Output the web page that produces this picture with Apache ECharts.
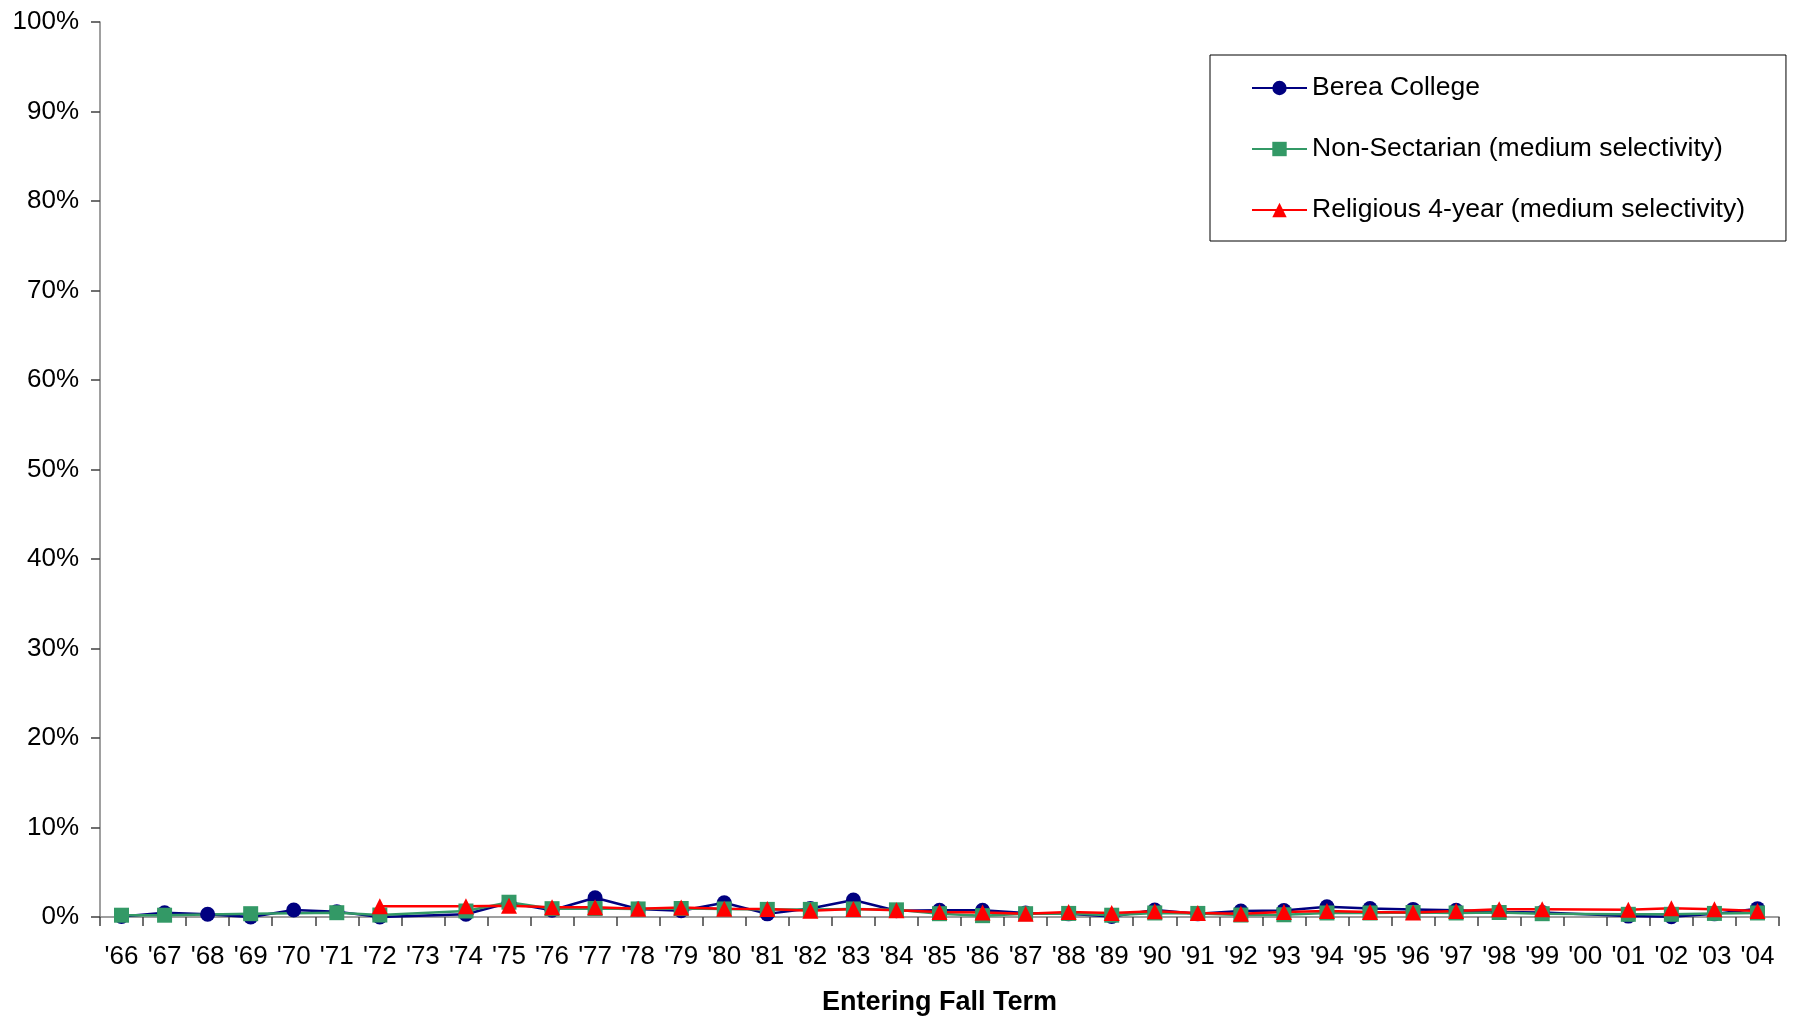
<!DOCTYPE html>
<html>
<head>
<meta charset="utf-8">
<script src="https://cdn.jsdelivr.net/npm/echarts@6/dist/echarts.min.js"></script>
<style>
html,body{margin:0;padding:0;background:#fff;}
#chart{width:1799px;height:1016px;}
</style>
</head>
<body>
<div id="chart"></div>
<script>
var categories = ["'66","'67","'68","'69","'70","'71","'72","'73","'74","'75","'76","'77","'78","'79","'80","'81","'82","'83","'84","'85","'86","'87","'88","'89","'90","'91","'92","'93","'94","'95","'96","'97","'98","'99","'00","'01","'02","'03","'04"];

var bereaCollege = [0.05,0.48,0.3,0.0,0.78,0.6,0.0,null,0.3,1.6,0.75,2.15,0.9,0.7,1.6,0.35,0.95,1.9,0.7,0.75,0.75,0.45,0.35,0.05,0.78,0.35,0.67,0.72,1.15,0.95,0.85,0.75,0.55,0.5,null,0.1,0.03,0.35,0.93];

var nonSectarian = [0.2,0.2,null,0.37,null,0.48,0.22,null,0.67,1.65,0.93,0.95,0.9,0.95,0.9,0.85,0.85,0.9,0.8,0.37,0.15,0.37,0.4,0.2,0.45,0.4,0.22,0.25,0.45,0.45,0.5,0.45,0.5,0.37,null,0.3,0.3,0.4,0.45];

var religious4yr = [null,null,null,null,null,null,1.2,null,1.2,1.25,1.1,1.1,0.93,1.05,0.93,0.9,0.7,0.9,0.75,0.55,0.5,0.37,0.55,0.45,0.65,0.45,0.37,0.55,0.67,0.55,0.5,0.67,0.86,0.86,null,0.8,0.97,0.86,0.67];

var seriesNames = ["Berea College","Non-Sectarian (medium selectivity)","Religious 4-year (medium selectivity)"];
var xAxisTitle = "Entering Fall Term";

var FONT = 'Arial, "Liberation Sans", sans-serif';
var chart = echarts.init(document.getElementById('chart'), null, {renderer:'canvas'});

function lineSeries(name, data, color, symbol, size) {
  return {
    name: name,
    type: 'line',
    data: data,
    connectNulls: true,
    symbol: symbol,
    symbolSize: size,
    showAllSymbol: true,
    animation: false,
    lineStyle: {color: color, width: 2.5},
    itemStyle: {color: color},
    emphasis: {disabled: true}
  };
}

chart.setOption({
  animation: false,
  backgroundColor: '#ffffff',
  textStyle: {fontFamily: FONT},
  grid: {left: 100, right: 20, top: 22, bottom: 99, containLabel: false, outerBoundsMode: 'none'},
  legend: {
    orient: 'vertical',
    left: 1210,
    top: 55,
    padding: [18, 41, 16, 41],
    itemGap: 31,
    itemWidth: 55,
    itemHeight: 18,
    borderColor: '#000',
    borderWidth: 1,
    backgroundColor: '#fff',
    textStyle: {fontFamily: FONT, fontSize: 26.5, color: '#000', lineHeight: 30},
    data: seriesNames
  },
  xAxis: {
    type: 'category',
    data: categories,
    boundaryGap: true,
    name: xAxisTitle,
    nameLocation: 'middle',
    nameGap: 72,
    nameTextStyle: {fontFamily: FONT, fontSize: 27, fontWeight: 'bold', color: '#000'},
    axisLine: {lineStyle: {color: '#808080', width: 1.5}},
    axisTick: {show: true, interval: 0, length: 9, lineStyle: {color: '#404040', width: 1.5}},
    axisLabel: {interval: 0, margin: 27, fontFamily: FONT, fontSize: 26, color: '#000'},
    splitLine: {show: false}
  },
  yAxis: {
    type: 'value',
    min: 0,
    max: 100,
    interval: 10,
    axisLine: {show: true, lineStyle: {color: '#808080', width: 1.5}},
    axisTick: {show: true, length: 9, lineStyle: {color: '#404040', width: 1.5}},
    axisLabel: {formatter: '{value}%', margin: 21, fontFamily: FONT, fontSize: 26, color: '#000'},
    splitLine: {show: false}
  },
  series: [
    lineSeries(seriesNames[0], bereaCollege, '#000080', 'circle', 15),
    lineSeries(seriesNames[1], nonSectarian, '#339966', 'rect', 15),
    lineSeries(seriesNames[2], religious4yr, '#ff0000', 'triangle', 16)
  ]
});
</script>
</body>
</html>
